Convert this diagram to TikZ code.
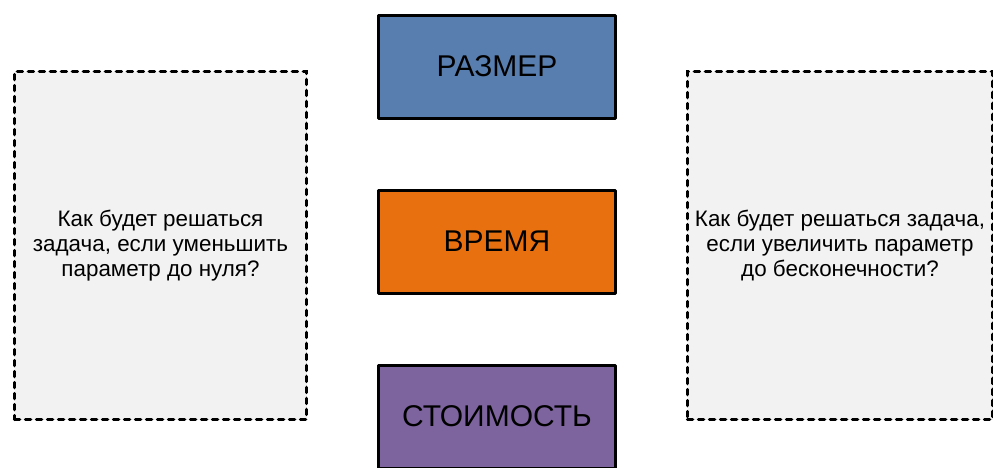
\documentclass[tikz,border=0pt]{standalone}
\usepackage{fontspec}
\setmainfont{Liberation Sans}
\definecolor{sizeblue}{RGB}{88,126,176}
\definecolor{timeorange}{RGB}{232,112,14}
\definecolor{costpurple}{RGB}{126,100,158}
\definecolor{notegray}{RGB}{242,242,242}
\begin{document}
\begin{tikzpicture}[x=0.5pt,y=-0.5pt,
                    param/.style={draw,line width=1.5pt,line join=round,minimum width=118.5pt,minimum height=51.5pt,font=\fontsize{15}{18}\selectfont},
                    question/.style={draw,fill=notegray,line width=1.6pt,dash pattern=on 2.6pt off 2.9pt,line cap=round,minimum height=174pt,align=center,font=\fontsize{11.2}{12.5}\selectfont}]
      \useasboundingbox (0,0) rectangle (993,467);
      \begin{scope}
        \clip (0,0) rectangle (993,467);
        \foreach[count=\i,evaluate={66.5+(\i-1)*175} as \y] \t/\c in {РАЗМЕР/sizeblue,ВРЕМЯ/timeorange,СТОИМОСТЬ/costpurple} {
          \node[param,fill=\c] (p\i) at (497,\y) {\t};
        }

        \node[question,minimum width=146pt] (q1) at (160.5,245.5) {Как будет решаться\\ задача, если уменьшить\\ параметр до нуля?};
        \node[question,minimum width=152.5pt] (q2) at (840,245.5) {Как будет решаться задача,\\ если увеличить параметр\\ до бесконечности?};
      \end{scope}
    \end{tikzpicture}
\end{document}
